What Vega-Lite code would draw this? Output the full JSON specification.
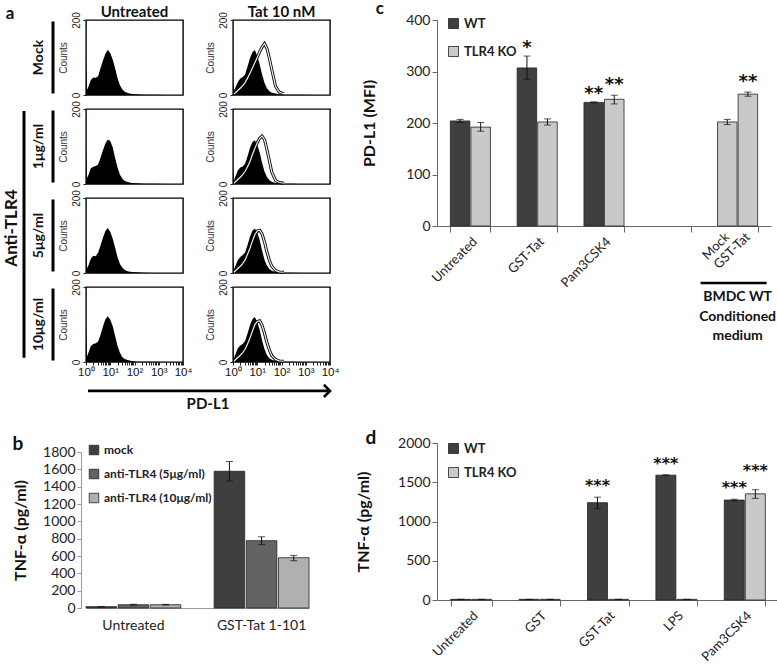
{
  "$schema": "https://vega.github.io/schema/vega-lite/v6.json",
  "padding": {"left": 2, "top": 0, "right": 0, "bottom": 0},
  "background": "white",
  "datasets": {
    "hist": [
      {"x":1,"UM":92,"U1":95,"U5":90,"U10":94,"TM":40,"T1":42,"T5":40,"T10":42,"TMt":0,"T1t":0,"T5t":0,"T10t":0},
      {"x":1.1,"UM":14,"U1":16,"U5":13,"U10":15,"TM":12,"T1":10,"T5":10,"T10":11,"TMt":3,"T1t":2,"T5t":2,"T10t":2},
      {"x":1.26,"UM":22,"U1":24,"U5":20,"U10":25,"TM":20,"T1":20,"T5":19,"T10":21,"TMt":6,"T1t":6,"T5t":6,"T10t":6},
      {"x":1.58,"UM":40,"U1":42,"U5":38,"U10":43,"TM":35,"T1":36,"T5":35,"T10":37,"TMt":12,"T1t":12,"T5t":12,"T10t":12},
      {"x":2,"UM":47,"U1":46,"U5":46,"U10":48,"TM":44,"T1":44,"T5":43,"T10":44,"TMt":18,"T1t":18,"T5t":18,"T10t":18},
      {"x":2.51,"UM":46,"U1":48,"U5":45,"U10":50,"TM":48,"T1":47,"T5":48,"T10":48,"TMt":25,"T1t":25,"T5t":25,"T10t":25},
      {"x":3.16,"UM":50,"U1":52,"U5":54,"U10":55,"TM":55,"T1":54,"T5":55,"T10":56,"TMt":33,"T1t":34,"T5t":35,"T10t":34},
      {"x":3.98,"UM":72,"U1":70,"U5":74,"U10":73,"TM":76,"T1":74,"T5":75,"T10":76,"TMt":45,"T1t":46,"T5t":50,"T10t":48},
      {"x":5.01,"UM":92,"U1":90,"U5":94,"U10":95,"TM":98,"T1":96,"T5":97,"T10":98,"TMt":58,"T1t":60,"T5t":66,"T10t":64},
      {"x":6.31,"UM":110,"U1":108,"U5":112,"U10":114,"TM":114,"T1":112,"T5":113,"T10":114,"TMt":72,"T1t":78,"T5t":85,"T10t":82},
      {"x":7.94,"UM":121,"U1":119,"U5":120,"U10":122,"TM":120,"T1":117,"T5":119,"T10":120,"TMt":86,"T1t":95,"T5t":102,"T10t":100},
      {"x":10,"UM":112,"U1":115,"U5":110,"U10":113,"TM":104,"T1":105,"T5":108,"T10":107,"TMt":100,"T1t":110,"T5t":112,"T10t":108},
      {"x":12.6,"UM":95,"U1":98,"U5":92,"U10":96,"TM":82,"T1":84,"T5":88,"T10":86,"TMt":115,"T1t":122,"T5t":114,"T10t":110},
      {"x":15.8,"UM":72,"U1":70,"U5":68,"U10":70,"TM":55,"T1":57,"T5":60,"T10":58,"TMt":128,"T1t":128,"T5t":104,"T10t":98},
      {"x":20,"UM":45,"U1":44,"U5":42,"U10":43,"TM":32,"T1":33,"T5":35,"T10":34,"TMt":137,"T1t":118,"T5t":82,"T10t":76},
      {"x":25.1,"UM":26,"U1":25,"U5":24,"U10":25,"TM":18,"T1":19,"T5":20,"T10":19,"TMt":124,"T1t":92,"T5t":56,"T10t":52},
      {"x":31.6,"UM":15,"U1":14,"U5":14,"U10":13,"TM":10,"T1":10,"T5":11,"T10":10,"TMt":98,"T1t":62,"T5t":34,"T10t":32},
      {"x":39.8,"UM":9,"U1":8,"U5":8,"U10":8,"TM":6,"T1":6,"T5":6,"T10":6,"TMt":68,"T1t":32,"T5t":18,"T10t":17},
      {"x":56.2,"UM":5,"U1":5,"U5":4,"U10":5,"TM":4,"T1":3,"T5":3,"T10":3,"TMt":24,"T1t":10,"T5t":7,"T10t":7},
      {"x":79.4,"UM":3,"U1":3,"U5":3,"U10":3,"TM":2,"T1":2,"T5":2,"T10":2,"TMt":8,"T1t":4,"T5t":3,"T10t":3},
      {"x":126,"UM":2,"U1":2,"U5":2,"U10":1,"TM":1,"T1":1,"T5":1,"T10":1,"TMt":3,"T1t":2,"T5t":2,"T10t":2},
      {"x":251,"UM":1,"U1":1,"U5":1,"U10":1,"TM":1,"T1":1,"T5":1,"T10":1,"TMt":0,"T1t":0,"T5t":0,"T10t":0},
      {"x":631,"UM":1,"U1":1,"U5":0,"U10":1,"TM":1,"T1":0,"T5":0,"T10":0,"TMt":0,"T1t":0,"T5t":0,"T10t":0},
      {"x":1995,"UM":0,"U1":0,"U5":0,"U10":0,"TM":0,"T1":0,"T5":0,"T10":0,"TMt":0,"T1t":0,"T5t":0,"T10t":0},
      {"x":10000,"UM":0,"U1":0,"U5":0,"U10":0,"TM":0,"T1":0,"T5":0,"T10":0,"TMt":0,"T1t":0,"T5t":0,"T10t":0}
    ],
    "series": [
      {"key":"UM","cond":"Untreated","dose":"Mock","kind":"fill"},
      {"key":"U1","cond":"Untreated","dose":"1μg/ml","kind":"fill"},
      {"key":"U5","cond":"Untreated","dose":"5μg/ml","kind":"fill"},
      {"key":"U10","cond":"Untreated","dose":"10μg/ml","kind":"fill"},
      {"key":"TM","cond":"Tat 10 nM","dose":"Mock","kind":"fill"},
      {"key":"T1","cond":"Tat 10 nM","dose":"1μg/ml","kind":"fill"},
      {"key":"T5","cond":"Tat 10 nM","dose":"5μg/ml","kind":"fill"},
      {"key":"T10","cond":"Tat 10 nM","dose":"10μg/ml","kind":"fill"},
      {"key":"TMt","cond":"Tat 10 nM","dose":"Mock","kind":"tat"},
      {"key":"T1t","cond":"Tat 10 nM","dose":"1μg/ml","kind":"tat"},
      {"key":"T5t","cond":"Tat 10 nM","dose":"5μg/ml","kind":"tat"},
      {"key":"T10t","cond":"Tat 10 nM","dose":"10μg/ml","kind":"tat"}
    ],
    "b": [
      {"trt":"Untreated","grp":"mock","mean":15,"lo":13,"hi":17},
      {"trt":"Untreated","grp":"anti-TLR4 (5μg/ml)","mean":38,"lo":33,"hi":43},
      {"trt":"Untreated","grp":"anti-TLR4 (10μg/ml)","mean":38,"lo":34,"hi":42},
      {"trt":"GST-Tat 1-101","grp":"mock","mean":1578,"lo":1465,"hi":1690},
      {"trt":"GST-Tat 1-101","grp":"anti-TLR4 (5μg/ml)","mean":777,"lo":732,"hi":822},
      {"trt":"GST-Tat 1-101","grp":"anti-TLR4 (10μg/ml)","mean":580,"lo":545,"hi":607}
    ],
    "c": [
      {"trt":"Untreated","geno":"WT","order":1,"mean":204,"lo":201,"hi":207},
      {"trt":"Untreated","geno":"TLR4 KO","order":2,"mean":192,"lo":184,"hi":201},
      {"trt":"GST-Tat","geno":"WT","order":1,"mean":307,"lo":285,"hi":330,"sig":"*"},
      {"trt":"GST-Tat","geno":"TLR4 KO","order":2,"mean":202,"lo":196,"hi":208},
      {"trt":"Pam3CSK4","geno":"WT","order":1,"mean":240,"lo":239,"hi":241,"sig":"**"},
      {"trt":"Pam3CSK4","geno":"TLR4 KO","order":2,"mean":246,"lo":237,"hi":254,"sig":"**"},
      {"trt":"CM","geno":"TLR4 KO","order":1,"label":"Mock","mean":202,"lo":197,"hi":207},
      {"trt":"CM","geno":"TLR4 KO","order":2,"label":"GST-Tat","mean":256,"lo":252,"hi":260,"sig":"**"}
    ],
    "d": [
      {"trt":"Untreated","geno":"WT","mean":8,"lo":8,"hi":8},
      {"trt":"Untreated","geno":"TLR4 KO","mean":8,"lo":8,"hi":8},
      {"trt":"GST","geno":"WT","mean":8,"lo":8,"hi":8},
      {"trt":"GST","geno":"TLR4 KO","mean":8,"lo":8,"hi":8},
      {"trt":"GST-Tat","geno":"WT","mean":1240,"lo":1165,"hi":1310,"sig":"***"},
      {"trt":"GST-Tat","geno":"TLR4 KO","mean":8,"lo":8,"hi":8},
      {"trt":"LPS","geno":"WT","mean":1590,"lo":1585,"hi":1595,"sig":"***"},
      {"trt":"LPS","geno":"TLR4 KO","mean":8,"lo":8,"hi":8},
      {"trt":"Pam3CSK4","geno":"WT","mean":1273,"lo":1262,"hi":1284,"sig":"***"},
      {"trt":"Pam3CSK4","geno":"TLR4 KO","mean":1352,"lo":1295,"hi":1405,"sig":"***"}
    ]
  },
  "resolve": {"scale": {"color": "independent", "xOffset": "independent"}, "legend": {"color": "independent"}},
  "spacing": 16,
  "hconcat": [
    {
      "concat": [
        {
          "data": {"name": "hist"},
          "transform": [
            {"fold": ["UM","U1","U5","U10","TM","T1","T5","T10","TMt","T1t","T5t","T10t"], "as": ["key","count"]},
            {"lookup": "key", "from": {"data": {"name": "series"}, "key": "key", "fields": ["cond","dose","kind"]}}
          ],
          "facet": {
            "row": {"field": "dose", "type": "nominal", "sort": ["Mock","1μg/ml","5μg/ml","10μg/ml"], "header": {"labels": false, "title": null}, "title": null},
            "column": {"field": "cond", "type": "nominal", "sort": ["Untreated","Tat 10 nM"], "header": {"labelFontSize": 15, "labelFontWeight": "bold", "labelPadding": 0, "labelColor": "#111"}, "title": null}
          },
          "spacing": {"row": 14, "column": 50},
          "bounds": "flush",
          "resolve": {"axis": {"y": "independent"}},
          "spec": {
            "width": 97,
            "height": 75,
            "view": {"stroke": "black", "strokeWidth": 1.4},
            "encoding": {
              "x": {"field": "x", "type": "quantitative", "scale": {"type": "log", "domain": [1, 10000]},
                "axis": {"title": null, "values": [1,2,3,4,5,6,7,8,9,10,20,30,40,50,60,70,80,90,100,200,300,400,500,600,700,800,900,1000,2000,3000,4000,5000,6000,7000,8000,9000,10000],
                  "labelExpr": "datum.value==1?'10⁰':datum.value==10?'10¹':datum.value==100?'10²':datum.value==1000?'10³':datum.value==10000?'10⁴':''",
                  "labelFontSize": 11.5, "labelFont": "Liberation Sans", "labelColor": "#111", "tickSize": 3, "tickColor": "#222", "domain": false, "labelPadding": 1, "labelOverlap": false, "labelFlush": false, "grid": false}},
              "y": {"field": "count", "type": "quantitative", "scale": {"domain": [0, 200]},
                "axis": {"title": "Counts", "titleFontSize": 10, "titleFontWeight": "normal", "titleFont": "Liberation Sans", "titleColor": "#333", "titlePadding": 3, "values": [0, 200], "labelAngle": -90, "labelAlign": "center", "labelFontSize": 10, "labelFont": "Liberation Sans", "labelColor": "#222", "tickSize": 3, "tickColor": "#222", "domain": false, "labelPadding": 2, "grid": false}}
            },
            "layer": [
              {"transform": [{"filter": {"field": "kind", "equal": "fill"}}], "mark": {"type": "area", "color": "black"}},
              {"transform": [{"filter": {"field": "kind", "equal": "tat"}}, {"filter": "datum.count > 0"}], "mark": {"type": "line", "color": "black", "strokeWidth": 3}},
              {"transform": [{"filter": {"field": "kind", "equal": "tat"}}, {"filter": "datum.count > 0"}], "mark": {"type": "line", "color": "#f0f0f0", "strokeWidth": 1.2}},
              {"transform": [{"filter": {"and": [{"field": "cond", "equal": "Untreated"}, {"field": "x", "equal": 1}]}}],
                "mark": {"type": "rule", "color": "black", "strokeWidth": 3, "xOffset": -33},
                "encoding": {"x": {"datum": 1}, "y": {"datum": 4}, "y2": {"datum": 196}}},
              {"transform": [{"filter": {"and": [{"field": "cond", "equal": "Untreated"}, {"field": "x", "equal": 1}]}}],
                "mark": {"type": "text", "angle": 270, "fontSize": 14, "fontWeight": "bold", "color": "#111", "xOffset": -47, "align": "center", "baseline": "middle"},
                "encoding": {"x": {"datum": 1}, "y": {"datum": 100}, "text": {"field": "dose"}}},
              {"transform": [{"filter": {"and": [{"field": "cond", "equal": "Untreated"}, {"field": "dose", "equal": "Mock"}, {"field": "x", "equal": 1}]}}],
                "mark": {"type": "text", "fontSize": 17, "fontWeight": "bold", "color": "#111", "xOffset": -76, "yOffset": -1, "align": "center", "baseline": "alphabetic"},
                "encoding": {"x": {"datum": 1}, "y": {"datum": 200}, "text": {"value": "a"}}},
              {"transform": [{"filter": {"and": [{"field": "cond", "equal": "Untreated"}, {"field": "dose", "equal": "5μg/ml"}, {"field": "x", "equal": 1}]}}],
                "mark": {"type": "text", "angle": 270, "fontSize": 17, "fontWeight": "bold", "color": "#111", "xOffset": -74, "align": "center", "baseline": "middle"},
                "encoding": {"x": {"datum": 1}, "y": {"datum": 120}, "text": {"value": "Anti-TLR4"}}},
              {"transform": [{"filter": {"and": [{"field": "cond", "equal": "Untreated"}, {"field": "dose", "equal": "5μg/ml"}, {"field": "x", "equal": 1}]}}],
                "mark": {"type": "rule", "color": "black", "strokeWidth": 3, "xOffset": -62},
                "encoding": {"x": {"datum": 1}, "y": {"datum": -226}, "y2": {"datum": 432}}},
              {"transform": [{"filter": {"and": [{"field": "cond", "equal": "Tat 10 nM"}, {"field": "dose", "equal": "10μg/ml"}, {"field": "kind", "equal": "fill"}, {"field": "x", "equal": 1}]}}],
                "mark": {"type": "rule", "color": "black", "strokeWidth": 2.6},
                "encoding": {"x": {"datum": 0.00000105}, "x2": {"datum": 9800}, "y": {"datum": -77}}},
              {"transform": [{"filter": {"and": [{"field": "cond", "equal": "Tat 10 nM"}, {"field": "dose", "equal": "10μg/ml"}, {"field": "kind", "equal": "fill"}, {"field": "x", "equal": 1}]}}],
                "mark": {"type": "point", "shape": "M-1,-1L0,0L-1,1", "filled": false, "color": "black", "strokeWidth": 2.6, "size": 150, "opacity": 1},
                "encoding": {"x": {"datum": 10000}, "y": {"datum": -77}}},
              {"transform": [{"filter": {"and": [{"field": "cond", "equal": "Tat 10 nM"}, {"field": "dose", "equal": "10μg/ml"}, {"field": "kind", "equal": "fill"}, {"field": "x", "equal": 1}]}}],
                "mark": {"type": "text", "fontSize": 15, "fontWeight": "bold", "color": "#111", "align": "center", "baseline": "middle", "yOffset": 13},
                "encoding": {"x": {"datum": 0.093}, "y": {"datum": -77}, "text": {"value": "PD-L1"}}}
            ]
          }
        },
        {
          "title": {"text": "b", "offset": -10},
          "width": 223,
          "height": 156,
          "data": {"name": "b"},
          "encoding": {
            "x": {"field": "trt", "type": "nominal", "sort": ["Untreated","GST-Tat 1-101"], "scale": {"paddingInner": 0.26, "paddingOuter": 0},
              "axis": {"title": null, "labelAngle": 0, "ticks": false, "labelFontSize": 14, "labelPadding": 10, "domainColor": "#999"}},
            "xOffset": {"field": "grp", "type": "nominal", "sort": ["mock","anti-TLR4 (5μg/ml)","anti-TLR4 (10μg/ml)"], "scale": {"paddingInner": 0.05}}
          },
          "layer": [
            {"mark": {"type": "bar", "stroke": "#222", "strokeWidth": 0.8},
              "encoding": {
                "y": {"field": "mean", "type": "quantitative", "title": "TNF-α (pg/ml)", "scale": {"domain": [0, 1800]},
                  "axis": {"values": [0,200,400,600,800,1000,1200,1400,1600,1800], "format": "d", "offset": 5, "labelOverlap": false, "labelFontSize": 14, "titleFontSize": 16, "titleFontWeight": "bold", "titlePadding": 14, "tickSize": 4, "domainColor": "#999", "tickColor": "#999"}},
                "color": {"field": "grp", "type": "nominal", "sort": ["mock","anti-TLR4 (5μg/ml)","anti-TLR4 (10μg/ml)"], "scale": {"range": ["#3f3f3f","#636363","#b0b0b0"]},
                  "legend": {"title": null, "orient": "none", "legendX": 2, "legendY": -8, "symbolType": "square", "symbolSize": 90, "symbolStrokeColor": "#222", "symbolStrokeWidth": 0.8, "labelFontWeight": "bold", "labelFontSize": 12, "labelColor": "#222", "rowPadding": 10, "padding": 0}}
              }},
            {"mark": {"type": "rule", "color": "#111"}, "encoding": {"y": {"field": "lo", "type": "quantitative", "title": "TNF-α (pg/ml)", "axis": {"values": [0,200,400,600,800,1000,1200,1400,1600,1800], "format": "d", "offset": 5, "labelOverlap": false, "labelFontSize": 14, "titleFontSize": 16, "titleFontWeight": "bold", "titlePadding": 14, "tickSize": 4, "domainColor": "#999", "tickColor": "#999"}}, "y2": {"field": "hi"}}},
            {"mark": {"type": "tick", "color": "#111", "size": 7, "thickness": 1}, "encoding": {"y": {"field": "lo", "type": "quantitative", "title": "TNF-α (pg/ml)", "axis": {"values": [0,200,400,600,800,1000,1200,1400,1600,1800], "format": "d", "offset": 5, "labelOverlap": false, "labelFontSize": 14, "titleFontSize": 16, "titleFontWeight": "bold", "titlePadding": 14, "tickSize": 4, "domainColor": "#999", "tickColor": "#999"}}}},
            {"mark": {"type": "tick", "color": "#111", "size": 7, "thickness": 1}, "encoding": {"y": {"field": "hi", "type": "quantitative", "title": "TNF-α (pg/ml)", "axis": {"values": [0,200,400,600,800,1000,1200,1400,1600,1800], "format": "d", "offset": 5, "labelOverlap": false, "labelFontSize": 14, "titleFontSize": 16, "titleFontWeight": "bold", "titlePadding": 14, "tickSize": 4, "domainColor": "#999", "tickColor": "#999"}}}}
          ]
        }
      ],
      "columns": 1,
      "align": "none",
      "spacing": 22,
      "resolve": {"scale": {"color": "independent", "xOffset": "independent"}, "legend": {"color": "independent"}}
    },
    {
      "spacing": 86,
      "resolve": {"scale": {"color": "independent", "xOffset": "independent"}, "legend": {"color": "independent"}},
      "vconcat": [
        {
          "title": {"text": "c", "offset": 0, "dx": 14, "dy": 5, "fontSize": 17},
          "width": 334,
          "height": 206,
          "data": {"name": "c"},
          "encoding": {
            "x": {"field": "trt", "type": "nominal", "scale": {"domain": ["Untreated","GST-Tat","Pam3CSK4","none","CM"], "paddingInner": 0.4, "paddingOuter": 0.2},
              "axis": {"title": null, "labelAngle": -45, "labelFontSize": 13, "tickBand": "extent", "tickSize": 6, "tickColor": "#666", "domainColor": "#666",
                "labelExpr": "datum.value=='none'||datum.value=='CM'?'':datum.label", "labelPadding": 3}}
          },
          "layer": [
            {"mark": {"type": "bar", "stroke": "#222", "strokeWidth": 0.8},
              "encoding": {
                "xOffset": {"field": "order", "type": "ordinal", "scale": {"paddingInner": 0.05}},
                "y": {"field": "mean", "type": "quantitative", "title": "PD-L1 (MFI)", "scale": {"domain": [0, 400]},
                  "axis": {"values": [0,100,200,300,400], "labelOverlap": false, "labelFontSize": 14, "titleFontSize": 16, "titleFontWeight": "bold", "titlePadding": 28, "tickSize": 5, "domainColor": "#666", "tickColor": "#666"}},
                "color": {"field": "geno", "type": "nominal", "sort": ["WT","TLR4 KO"], "scale": {"domain": ["WT","TLR4 KO"], "range": ["#3f3f3f","#c9c9c9"]},
                  "legend": {"title": null, "orient": "none", "legendX": 10, "legendY": -3, "symbolType": "square", "symbolSize": 100, "symbolStrokeColor": "#222", "symbolStrokeWidth": 0.8, "labelFontWeight": "bold", "labelFontSize": 13, "labelColor": "#222", "rowPadding": 13, "padding": 0}}
              }},
            {"mark": {"type": "rule", "color": "#111"}, "encoding": {"xOffset": {"field": "order", "type": "ordinal"}, "y": {"field": "lo", "type": "quantitative", "title": "PD-L1 (MFI)", "axis": {"values": [0,100,200,300,400], "labelOverlap": false, "labelFontSize": 14, "titleFontSize": 16, "titleFontWeight": "bold", "titlePadding": 28, "tickSize": 5, "domainColor": "#666", "tickColor": "#666"}}, "y2": {"field": "hi"}}},
            {"mark": {"type": "tick", "color": "#111", "size": 7, "thickness": 1}, "encoding": {"xOffset": {"field": "order", "type": "ordinal"}, "y": {"field": "lo", "type": "quantitative", "title": "PD-L1 (MFI)", "axis": {"values": [0,100,200,300,400], "labelOverlap": false, "labelFontSize": 14, "titleFontSize": 16, "titleFontWeight": "bold", "titlePadding": 28, "tickSize": 5, "domainColor": "#666", "tickColor": "#666"}}}},
            {"mark": {"type": "tick", "color": "#111", "size": 7, "thickness": 1}, "encoding": {"xOffset": {"field": "order", "type": "ordinal"}, "y": {"field": "hi", "type": "quantitative", "title": "PD-L1 (MFI)", "axis": {"values": [0,100,200,300,400], "labelOverlap": false, "labelFontSize": 14, "titleFontSize": 16, "titleFontWeight": "bold", "titlePadding": 28, "tickSize": 5, "domainColor": "#666", "tickColor": "#666"}}}},
            {"transform": [{"filter": {"field": "sig", "oneOf": ["*", "**", "***"]}}, {"filter": {"field": "geno", "equal": "WT"}}],
              "mark": {"type": "text", "font": "DejaVu Sans", "fontWeight": "bold", "fontSize": 18, "baseline": "alphabetic", "yOffset": -3, "color": "#111"},
              "encoding": {"xOffset": {"field": "order", "type": "ordinal"}, "y": {"field": "hi", "type": "quantitative", "title": "PD-L1 (MFI)", "axis": {"values": [0,100,200,300,400], "labelOverlap": false, "labelFontSize": 14, "titleFontSize": 16, "titleFontWeight": "bold", "titlePadding": 28, "tickSize": 5, "domainColor": "#666", "tickColor": "#666"}}, "text": {"field": "sig"}}},
            {"transform": [{"filter": {"field": "sig", "oneOf": ["*", "**", "***"]}}, {"filter": {"field": "geno", "equal": "TLR4 KO"}}],
              "mark": {"type": "text", "font": "DejaVu Sans", "fontWeight": "bold", "fontSize": 18, "baseline": "alphabetic", "yOffset": -5, "color": "#111"},
              "encoding": {"xOffset": {"field": "order", "type": "ordinal"}, "y": {"field": "hi", "type": "quantitative", "title": "PD-L1 (MFI)", "axis": {"values": [0,100,200,300,400], "labelOverlap": false, "labelFontSize": 14, "titleFontSize": 16, "titleFontWeight": "bold", "titlePadding": 28, "tickSize": 5, "domainColor": "#666", "tickColor": "#666"}}, "text": {"field": "sig"}}},
            {"transform": [{"filter": {"field": "trt", "equal": "CM"}}],
              "mark": {"type": "text", "angle": 315, "align": "right", "baseline": "middle", "fontSize": 13, "yOffset": 9, "xOffset": 3, "color": "#222"},
              "encoding": {"xOffset": {"field": "order", "type": "ordinal"}, "y": {"datum": 0, "axis": {"values": [0,100,200,300,400], "labelOverlap": false, "labelFontSize": 14, "titleFontSize": 16, "titleFontWeight": "bold", "titlePadding": 28, "tickSize": 5, "domainColor": "#666", "tickColor": "#666"}}, "text": {"field": "label"}}},
            {"transform": [{"filter": {"and": [{"field": "trt", "equal": "CM"}, {"field": "order", "equal": 1}]}}],
              "mark": {"type": "rule", "color": "black", "strokeWidth": 2.5, "xOffset": -37, "x2Offset": 29, "yOffset": 57},
              "encoding": {"x2": {"field": "trt"}, "y": {"datum": 0, "axis": {"values": [0,100,200,300,400], "labelOverlap": false, "labelFontSize": 14, "titleFontSize": 16, "titleFontWeight": "bold", "titlePadding": 28, "tickSize": 5, "domainColor": "#666", "tickColor": "#666"}}}},
            {"transform": [{"filter": {"and": [{"field": "trt", "equal": "CM"}, {"field": "order", "equal": 1}]}}],
              "mark": {"type": "text", "fontSize": 14, "fontWeight": "bold", "baseline": "top", "lineHeight": 19.5, "yOffset": 64, "color": "#111"},
              "encoding": {"y": {"datum": 0, "axis": {"values": [0,100,200,300,400], "labelOverlap": false, "labelFontSize": 14, "titleFontSize": 16, "titleFontWeight": "bold", "titlePadding": 28, "tickSize": 5, "domainColor": "#666", "tickColor": "#666"}}, "text": {"value": ["BMDC WT", "Conditioned", "medium"]}}}
          ]
        },
        {
          "title": {"text": "d", "offset": -12, "dx": 10},
          "width": 342,
          "height": 157,
          "data": {"name": "d"},
          "encoding": {
            "x": {"field": "trt", "type": "nominal", "scale": {"domain": ["Untreated","GST","GST-Tat","LPS","Pam3CSK4"], "paddingInner": 0.4, "paddingOuter": 0.2},
              "axis": {"title": null, "labelAngle": -45, "labelFontSize": 13, "tickBand": "extent", "tickSize": 6, "tickColor": "#666", "domainColor": "#666", "labelPadding": 3}},
            "xOffset": {"field": "geno", "type": "nominal", "sort": ["WT","TLR4 KO"], "scale": {"paddingInner": 0.05}}
          },
          "layer": [
            {"mark": {"type": "bar", "stroke": "#222", "strokeWidth": 0.8},
              "encoding": {
                "y": {"field": "mean", "type": "quantitative", "title": "TNF-α (pg/ml)", "scale": {"domain": [0, 2000]},
                  "axis": {"values": [0,500,1000,1500,2000], "format": "d", "labelOverlap": false, "labelFontSize": 14, "titleFontSize": 16, "titleFontWeight": "bold", "titlePadding": 26, "tickSize": 5, "domainColor": "#666", "tickColor": "#666"}},
                "color": {"field": "geno", "type": "nominal", "sort": ["WT","TLR4 KO"], "scale": {"domain": ["WT","TLR4 KO"], "range": ["#3f3f3f","#c9c9c9"]},
                  "legend": {"title": null, "orient": "none", "legendX": 10, "legendY": -1, "symbolType": "square", "symbolSize": 100, "symbolStrokeColor": "#222", "symbolStrokeWidth": 0.8, "labelFontWeight": "bold", "labelFontSize": 13, "labelColor": "#222", "rowPadding": 9, "padding": 0}}
              }},
            {"mark": {"type": "rule", "color": "#111"}, "encoding": {"y": {"field": "lo", "type": "quantitative", "title": "TNF-α (pg/ml)", "axis": {"values": [0,500,1000,1500,2000], "format": "d", "labelOverlap": false, "labelFontSize": 14, "titleFontSize": 16, "titleFontWeight": "bold", "titlePadding": 26, "tickSize": 5, "domainColor": "#666", "tickColor": "#666"}}, "y2": {"field": "hi"}}},
            {"mark": {"type": "tick", "color": "#111", "size": 7, "thickness": 1}, "encoding": {"y": {"field": "lo", "type": "quantitative", "title": "TNF-α (pg/ml)", "axis": {"values": [0,500,1000,1500,2000], "format": "d", "labelOverlap": false, "labelFontSize": 14, "titleFontSize": 16, "titleFontWeight": "bold", "titlePadding": 26, "tickSize": 5, "domainColor": "#666", "tickColor": "#666"}}}},
            {"mark": {"type": "tick", "color": "#111", "size": 7, "thickness": 1}, "encoding": {"y": {"field": "hi", "type": "quantitative", "title": "TNF-α (pg/ml)", "axis": {"values": [0,500,1000,1500,2000], "format": "d", "labelOverlap": false, "labelFontSize": 14, "titleFontSize": 16, "titleFontWeight": "bold", "titlePadding": 26, "tickSize": 5, "domainColor": "#666", "tickColor": "#666"}}}},
            {"transform": [{"filter": {"field": "sig", "oneOf": ["*", "**", "***"]}}, {"filter": {"field": "geno", "equal": "WT"}}],
              "mark": {"type": "text", "font": "DejaVu Sans", "fontWeight": "bold", "fontSize": 16, "baseline": "alphabetic", "yOffset": -6, "color": "#111"},
              "encoding": {"y": {"field": "hi", "type": "quantitative", "title": "TNF-α (pg/ml)", "axis": {"values": [0,500,1000,1500,2000], "format": "d", "labelOverlap": false, "labelFontSize": 14, "titleFontSize": 16, "titleFontWeight": "bold", "titlePadding": 26, "tickSize": 5, "domainColor": "#666", "tickColor": "#666"}}, "text": {"field": "sig"}}},
            {"transform": [{"filter": {"field": "sig", "oneOf": ["*", "**", "***"]}}, {"filter": {"field": "geno", "equal": "TLR4 KO"}}],
              "mark": {"type": "text", "font": "DejaVu Sans", "fontWeight": "bold", "fontSize": 16, "baseline": "alphabetic", "yOffset": -14, "color": "#111"},
              "encoding": {"y": {"field": "hi", "type": "quantitative", "title": "TNF-α (pg/ml)", "axis": {"values": [0,500,1000,1500,2000], "format": "d", "labelOverlap": false, "labelFontSize": 14, "titleFontSize": 16, "titleFontWeight": "bold", "titlePadding": 26, "tickSize": 5, "domainColor": "#666", "tickColor": "#666"}}, "text": {"field": "sig"}}}
          ]
        }
      ]
    }
  ],
  "config": {
    "font": "Lato",
    "view": {"stroke": null},
    "axis": {"labelFont": "Lato", "titleFont": "Lato", "labelColor": "#222", "titleColor": "#111", "grid": false, "labelOverlap": false},
    "legend": {"labelFont": "Lato"},
    "header": {"labelFont": "Lato"},
    "title": {"font": "Lato", "fontSize": 19, "fontWeight": "bold", "anchor": "start", "frame": "bounds", "color": "#111"}
  }
}
